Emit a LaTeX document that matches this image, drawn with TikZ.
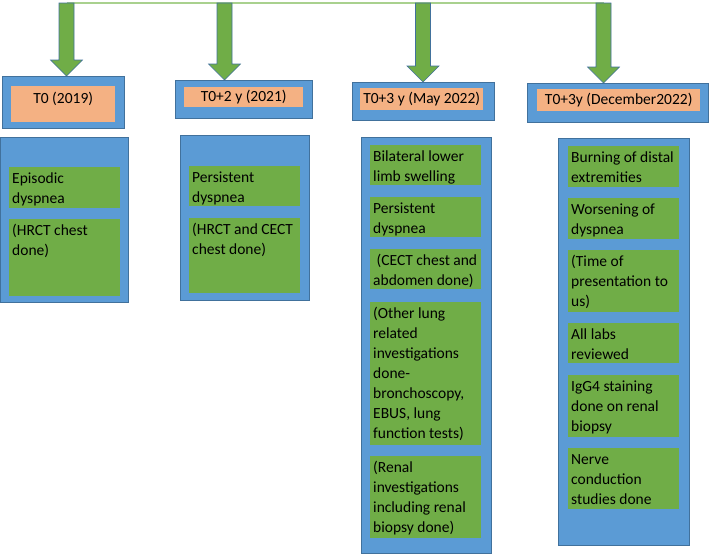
\documentclass[tikz,border=0pt]{standalone}
\usepackage{fontspec}
\setmainfont{Carlito}
\usetikzlibrary{calc}
\definecolor{boxblue}{RGB}{91,155,213}
\definecolor{edgeblue}{RGB}{65,113,156}
\definecolor{headorange}{RGB}{244,177,131}
\definecolor{itemgreen}{RGB}{112,173,71}
\definecolor{linegreen}{RGB}{169,209,142}

\tikzset{
  panel/.style={draw=edgeblue,fill=boxblue,line width=0.8pt,anchor=north west,inner sep=0pt},
  datebox/.style={fill=headorange,anchor=north west,inner sep=0pt,font=\fontsize{15.5}{18}\selectfont},
  item/.style={fill=itemgreen,anchor=north west,inner xsep=3pt,inner ysep=2pt,font=\fontsize{15.5}{20}\selectfont},
  blockarrow/.style={fill=itemgreen,draw=edgeblue,line width=0.6pt,line join=miter}
}
% box w x h at (x,y), top-left corner
\newcommand{\itembox}[5]{%
  \node[item] (#1) at (#2,#3) {\parbox[t][\dimexpr#4pt-4pt\relax][t]{105pt}{%
    \begin{tabular}[t]{@{}l@{}}#5\end{tabular}}};}
\newcommand{\blockarrow}[2]{%
  \draw[blockarrow] let \p1=(#1), \p2=(#2) in
    (\x1-7.5pt,\y1) -- (\x1+7.5pt,\y1) -- (\x1+7.5pt,\y2+16pt) -- (\x1+16pt,\y2+16pt)
    -- (\x1,\y2) -- (\x1-16pt,\y2+16pt) -- (\x1-7.5pt,\y2+16pt) -- cycle;}

\begin{document}
\begin{tikzpicture}[x=1pt,y=-1pt]
  \useasboundingbox (0,0) rectangle (709,554);
  % timeline
  \coordinate (t1) at (66.5,3);
  \coordinate (t2) at (224.5,3);
  \coordinate (t3) at (423,3);
  \coordinate (t4) at (603.5,3);
  \draw[linegreen,line width=1.2pt] (t1) -- (t4);

  % headers
  \node[panel,minimum width=122,minimum height=52] (hdr1) at (2,76) {};
  \node[datebox,minimum width=104,minimum height=36,text depth=13pt] (date1) at (11,86) {T0 (2019)};
  \node[panel,minimum width=137,minimum height=38] (hdr2) at (175,80) {};
  \node[datebox,minimum width=119,minimum height=20] (date2) at (184,87) {T0+2 y (2021)};
  \node[panel,minimum width=142,minimum height=38] (hdr3) at (352,82) {};
  \node[datebox,minimum width=123,minimum height=22] (date3) at (360,88) {T0+3 y (May 2022)};
  \node[panel,minimum width=181,minimum height=39] (hdr4) at (527,83) {};
  \node[datebox,minimum width=163,minimum height=22] (date4) at (537,89) {T0+3y (December2022)};

  % arrows
  \blockarrow{t1}{hdr1.north}
  \blockarrow{t2}{hdr2.north}
  \blockarrow{t3}{hdr3.north}
  \blockarrow{t4}{hdr4.north}

  % T0
  \node[panel,minimum width=128,minimum height=165] (body1) at (0,137) {};
  \itembox{a1}{9}{167}{41}{Episodic\\dyspnea}
  \itembox{a2}{9}{219}{77}{(HRCT chest\\done)}
  % T0+2
  \node[panel,minimum width=129,minimum height=165] (body2) at (180,135) {};
  \itembox{b1}{189}{166}{40}{Persistent\\dyspnea}
  \itembox{b2}{189}{218}{75}{(HRCT and CECT\\chest done)}
  % T0+3 May
  \node[panel,minimum width=130,minimum height=416] (body3) at (361,137) {};
  \itembox{c1}{370}{145}{40}{Bilateral lower\\limb swelling}
  \itembox{c2}{370}{197}{40}{Persistent\\dyspnea}
  \itembox{c3}{370}{249}{40}{\ (CECT chest and\\abdomen done)}
  \itembox{c4}{370}{302}{143}{(Other lung\\related\\investigations\\done-\\bronchoscopy,\\EBUS, lung\\function tests)}
  \itembox{c5}{370}{456}{82}{(Renal\\investigations\\including renal\\biopsy done)}
  % T0+3 December
  \node[panel,minimum width=131,minimum height=407] (body4) at (558,138) {};
  \itembox{d1}{568}{146}{41}{Burning of distal\\extremities}
  \itembox{d2}{568}{198}{41}{Worsening of\\dyspnea}
  \itembox{d3}{568}{250}{62}{(Time of\\presentation to\\us)}
  \itembox{d4}{568}{323}{40}{All labs\\reviewed}
  \itembox{d5}{568}{375}{62}{IgG4 staining\\done on renal\\biopsy}
  \itembox{d6}{568}{448}{61}{Nerve\\conduction\\studies done}
\end{tikzpicture}
\end{document}
